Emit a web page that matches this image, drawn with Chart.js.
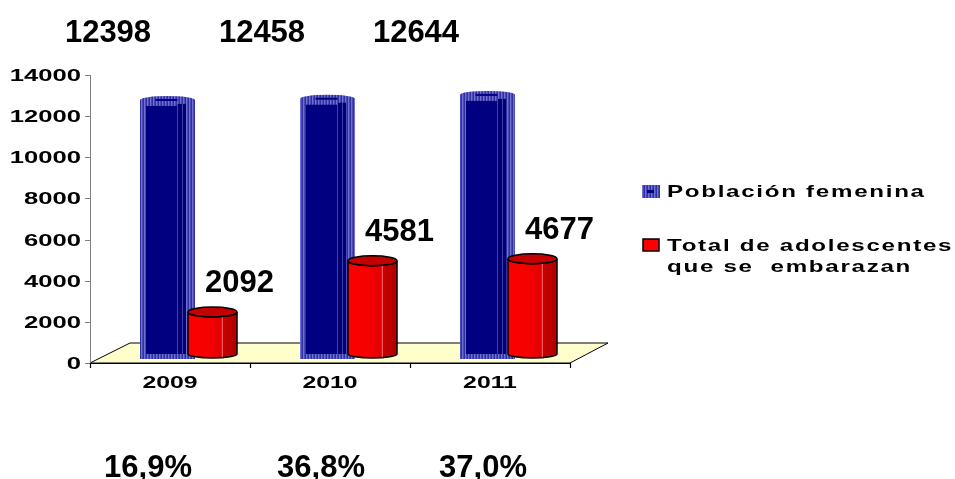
<!DOCTYPE html>
<html lang="es">
<head>
<meta charset="UTF-8" />
<title>Embarazo adolescente</title>
<script src="https://cdn.jsdelivr.net/npm/chart.js@4.4.0/dist/chart.umd.min.js"></script>
<style>
  html, body { margin: 0; padding: 0; background: #fff; }
  #chart { display: block; }
</style>
</head>
<body>
<canvas id="chart" width="955" height="479"></canvas>
<script>
  // data
  const years = ['2009', '2010', '2011'];
  const poblacion = [12398, 12458, 12644];
  const embarazos = [2092, 4581, 4677];
  const porcentajes = ['16,9%', '36,8%', '37,0%'];
  const seriesNames = ['Población femenina', 'Total de adolescentes que se  embarazan'];

  // free-floating text boxes of the original slide
  const topLabelX = [108, 262, 416];
  const pctX = [148, 321, 483];

  const FONT = '"Liberation Sans", Arial, sans-serif';
  const DX = 20, DY = -6;   // 3d depth shift of the bars

  function stripes(ctx) {
    const c = document.createElement('canvas');
    c.width = 3; c.height = 1;
    const g = c.getContext('2d');
    ['#7070d4', '#4a4ab6', '#30309c'].forEach((col, i) => { g.fillStyle = col; g.fillRect(i, 0, 1, 1); });
    return ctx.createPattern(c, 'repeat');
  }

  function wideText(ctx, txt, x, y, sx, align, spacing) {
    ctx.save();
    ctx.translate(x, y);
    ctx.scale(sx, 1);
    ctx.letterSpacing = (spacing || 0) + 'px';
    ctx.textAlign = align;
    ctx.textBaseline = 'alphabetic';
    ctx.fillText(txt, 0, 0);
    ctx.restore();
  }

  function drawBlue(ctx, cx, yv, base) {
    const L = cx - 27.5, R = cx + 27.5;
    const ft = yv + DY, bot = base + DY;
    const pat = stripes(ctx);
    ctx.fillStyle = pat;
    ctx.fillRect(L, ft - 2, R - L, bot - ft + 4);
    ctx.beginPath();
    ctx.ellipse(cx, ft - 2, 27.5, 4, 0, 0, Math.PI * 2);
    ctx.fill();
    // inner body
    ctx.fillStyle = '#000080';
    ctx.fillRect(L + 6, ft + 4, R - L - 15, bot - ft - 7);
    ctx.fillStyle = '#000070';
    ctx.fillRect(R - 17, ft + 2, 8, bot - ft - 5);
    ctx.strokeStyle = '#4040b0';
    ctx.lineWidth = 1;
    ctx.beginPath();
    ctx.moveTo(R - 17.5, ft + 2); ctx.lineTo(R - 17.5, bot - 3);
    ctx.moveTo(R - 12.5, ft + 2); ctx.lineTo(R - 12.5, bot - 3);
    ctx.stroke();
    // dash on the cap
    ctx.strokeStyle = '#000080';
    ctx.lineWidth = 2;
    ctx.beginPath();
    ctx.moveTo(cx - 12, ft - 2); ctx.lineTo(cx + 10, ft - 2);
    ctx.stroke();
  }

  function drawRed(ctx, cx, yv, base) {
    const rx = 24.5, ry = 5;
    const L = cx - rx, R = cx + rx;
    const cy = yv + DY - 2, bcy = base + DY - 3;
    const grad = ctx.createLinearGradient(L, 0, R, 0);
    grad.addColorStop(0, '#ff0000');
    grad.addColorStop(0.45, '#f40000');
    grad.addColorStop(0.69, '#e00000');
    grad.addColorStop(0.7, '#c80000');
    grad.addColorStop(1, '#b00000');
    ctx.beginPath();
    ctx.moveTo(L, cy);
    ctx.lineTo(L, bcy);
    ctx.ellipse(cx, bcy, rx, 4, 0, Math.PI, 0, true);
    ctx.lineTo(R, cy);
    ctx.ellipse(cx, cy, rx, ry, 0, 0, Math.PI, false);
    ctx.closePath();
    ctx.fillStyle = grad;
    ctx.fill();
    ctx.strokeStyle = '#000';
    ctx.lineWidth = 1.5;
    ctx.stroke();
    ctx.strokeStyle = 'rgba(255,140,140,0.8)';
    ctx.lineWidth = 1;
    ctx.beginPath();
    ctx.moveTo(L + 0.7 * 2 * rx, cy + ry); ctx.lineTo(L + 0.7 * 2 * rx, bcy + 3);
    ctx.stroke();
    ctx.beginPath();
    ctx.ellipse(cx, cy, rx, ry, 0, 0, Math.PI * 2);
    ctx.fillStyle = '#c40000';
    ctx.fill();
    ctx.strokeStyle = '#000';
    ctx.lineWidth = 1.5;
    ctx.stroke();
    return cy - ry;
  }

  const decor = {
    id: 'decor',
    beforeDatasetsDraw(chart) {
      const ctx = chart.ctx;
      const { left, right, top, bottom } = chart.chartArea;
      const xs = chart.scales.x, ys = chart.scales.y;
      ctx.save();
      // floor
      ctx.beginPath();
      ctx.moveTo(left, bottom);
      ctx.lineTo(right, bottom);
      ctx.lineTo(right + 38, bottom - 20);
      ctx.lineTo(left + 40, bottom - 20);
      ctx.closePath();
      ctx.fillStyle = '#ffffcc';
      ctx.fill();
      ctx.strokeStyle = '#000';
      ctx.lineWidth = 1;
      ctx.stroke();
      // y axis
      ctx.strokeStyle = '#808080';
      ctx.beginPath();
      ctx.moveTo(left + 0.5, top); ctx.lineTo(left + 0.5, bottom);
      let ticks = ys.ticks.map(t => t.value);
      if (!ticks.length) { for (let v = ys.min; v <= ys.max; v += 2000) ticks.push(v); }
      ticks.forEach(v => {
        const py = Math.round(ys.getPixelForValue(v)) + 0.5;
        ctx.moveTo(left - 5, py); ctx.lineTo(left, py);
      });
      ctx.stroke();
      ctx.fillStyle = '#000';
      ctx.font = 'bold 16px ' + FONT;
      ticks.forEach(v => {
        wideText(ctx, String(v), left - 9, ys.getPixelForValue(v) + 6, 1.6, 'right');
      });
      // x axis
      ctx.strokeStyle = '#000';
      ctx.lineWidth = 1.2;
      ctx.beginPath();
      ctx.moveTo(left, bottom + 0.5); ctx.lineTo(right, bottom + 0.5);
      const half = (xs.getPixelForValue(1) - xs.getPixelForValue(0)) / 2;
      [left].concat(years.map((y, i) => xs.getPixelForValue(i) + half)).forEach(px => {
        ctx.moveTo(Math.round(px) + 0.5, bottom); ctx.lineTo(Math.round(px) + 0.5, bottom + 5);
      });
      ctx.stroke();
      years.forEach((y, i) => {
        wideText(ctx, y, xs.getPixelForValue(i), bottom + 25, 1.55, 'center');
      });
      ctx.restore();
    },
    afterDatasetsDraw(chart) {
      const ctx = chart.ctx;
      const blue = chart.getDatasetMeta(0).data;
      const red = chart.getDatasetMeta(1).data;
      ctx.save();
      years.forEach((y, i) => {
        const b = blue[i].getProps(['x', 'y', 'base'], true);
        drawBlue(ctx, b.x + DX, b.y, b.base);
        const r = red[i].getProps(['x', 'y', 'base'], true);
        const capTop = drawRed(ctx, r.x + DX, r.y, r.base);
        ctx.fillStyle = '#000';
        ctx.font = 'bold 31px ' + FONT;
        ctx.textAlign = 'center';
        ctx.textBaseline = 'alphabetic';
        ctx.fillText(String(embarazos[i]), r.x + DX + 27, capTop - 15);
        ctx.fillText(String(poblacion[i]), topLabelX[i], 42);
        ctx.fillText(porcentajes[i], pctX[i], 477);
      });

      // legend
      ctx.fillStyle = stripes(ctx);
      ctx.fillRect(642, 185, 18, 13);
      ctx.fillStyle = '#000080';
      ctx.fillRect(647, 190, 7, 3);
      ctx.fillStyle = '#ff0000';
      ctx.fillRect(643, 239, 16, 12);
      ctx.strokeStyle = '#000';
      ctx.lineWidth = 1.5;
      ctx.strokeRect(643, 239, 16, 12);
      ctx.fillStyle = '#000';
      ctx.font = 'bold 17px ' + FONT;
      wideText(ctx, seriesNames[0], 667, 197, 1.42, 'left', 1.2);
      const parts = seriesNames[1].split(' que ');
      wideText(ctx, parts[0], 667, 251, 1.42, 'left', 1.2);
      wideText(ctx, 'que ' + parts[1], 667, 272, 1.42, 'left', 1.2);
      ctx.restore();
    }
  };

  const data = {
    labels: years,
    datasets: [
      {
        label: seriesNames[0],
        data: poblacion,
        backgroundColor: 'rgba(0,0,0,0)',
        borderWidth: 0,
        categoryPercentage: 0.5625,
        barPercentage: 1
      },
      {
        label: seriesNames[1],
        data: embarazos,
        backgroundColor: 'rgba(0,0,0,0)',
        borderWidth: 0,
        categoryPercentage: 0.5625,
        barPercentage: 1
      }
    ]
  };

  const config = {
    type: 'bar',
    data: data,
    options: {
      responsive: false,
      animation: false,
      devicePixelRatio: 1,
      layout: { padding: { left: 90, top: 75, right: 385, bottom: 116 } },
      plugins: { legend: { display: false }, tooltip: { enabled: false } },
      scales: {
        x: { display: false, offset: true },
        y: { display: false, min: 0, max: 14000, ticks: { stepSize: 2000 } }
      }
    },
    plugins: [decor]
  };

  const chart = new Chart(document.getElementById('chart'), config);
</script>
</body>
</html>
